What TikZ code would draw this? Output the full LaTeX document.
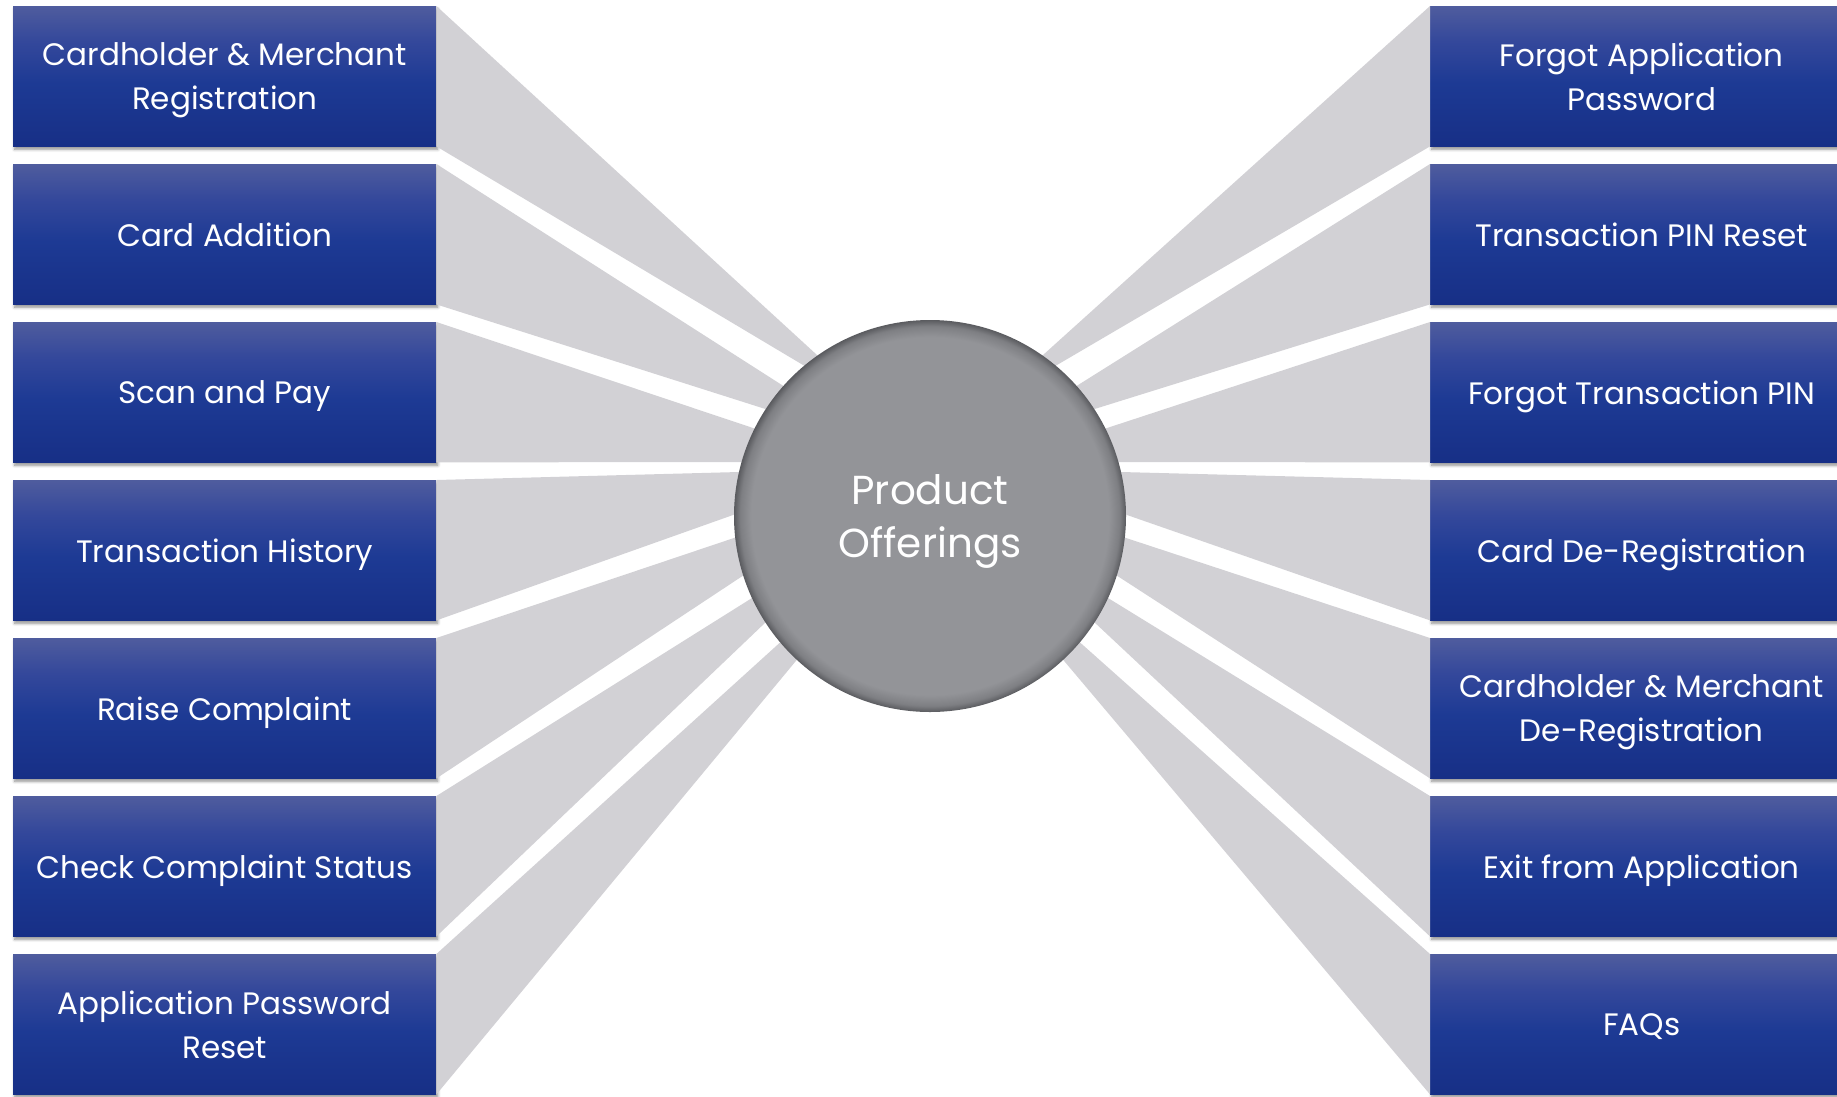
\documentclass[tikz,border=0pt]{standalone}
\usepackage{fontspec}
\setmainfont{Poppins}
\usetikzlibrary{calc,shadows.blur}
\definecolor{wedgegray}{HTML}{D2D1D5}
\definecolor{btop}{HTML}{4F5C9E}
\definecolor{bup}{HTML}{34489B}
\definecolor{bmid}{HTML}{1D3A94}
\definecolor{bbot}{HTML}{172F86}
\definecolor{cgray}{HTML}{939498}
\definecolor{crimA}{HTML}{7E7F83}
\definecolor{crimB}{HTML}{5A5B5F}
\pgfdeclareverticalshading{boxshade}{100bp}{color(0bp)=(bbot); color(25bp)=(bbot); color(47.5bp)=(bmid); color(62.5bp)=(bup); color(75bp)=(btop); color(100bp)=(btop)}
\pgfdeclareradialshading{orbshade}{\pgfpoint{0bp}{0bp}}{color(0bp)=(cgray); color(22.8bp)=(cgray); color(24.2bp)=(crimA); color(25bp)=(crimB); color(50bp)=(crimB)}
\begin{document}
\begin{tikzpicture}[x=1pt,y=-1pt,
  box/.style={rectangle, minimum width=423pt, minimum height=140pt, inner sep=0pt,
    anchor=north west, shade, shading=boxshade, text=white, text depth=-5pt,
    font=\fontsize{31}{44}\selectfont, align=center,
    blur shadow={shadow xshift=1.5pt, shadow yshift=-3pt, shadow blur radius=3pt, shadow opacity=45}},
  wedge/.style={fill=wedgegray},
  orb/.style={circle, minimum size=392pt, inner sep=0pt, shade, shading=orbshade,
    text=white, text depth=-5pt, font=\fontsize{40.5}{53}\selectfont, align=center}]
\useasboundingbox (0,0) rectangle (1837,1096);
\clip (0,0) rectangle (1837,1096);

% points where wedge edges meet the circle (left side)
\coordinate (t1) at (817,355);   \coordinate (b1) at (803,365);
\coordinate (t2) at (781.6,384.8); \coordinate (b2) at (763.8,408.5);
\coordinate (t3) at (754.8,428.6); \coordinate (b3) at (741.6,462);
\coordinate (t4) at (739,472);   \coordinate (b4) at (733,515);
\coordinate (t5) at (733,538.3); \coordinate (b5) at (741,577);
\coordinate (t6) at (752,598);   \coordinate (b6) at (767,621);
\coordinate (t7) at (785,638);   \coordinate (b7) at (796.7,660);
% right side (mirrored)
\coordinate (u1) at (1043,355);   \coordinate (v1) at (1057,365);
\coordinate (u2) at (1078.4,384.8); \coordinate (v2) at (1096.2,408.5);
\coordinate (u3) at (1105.2,428.6); \coordinate (v3) at (1118.4,462);
\coordinate (u4) at (1121,472);   \coordinate (v4) at (1127,515);
\coordinate (u5) at (1127,538.3); \coordinate (v5) at (1119,577);
\coordinate (u6) at (1108,598);   \coordinate (v6) at (1093,621);
\coordinate (u7) at (1075,638);   \coordinate (v7) at (1063.3,660);

% boxes
\path
  (13,6)   node[box] (L1) {Cardholder \& Merchant\\Registration}
  (13,164) node[box] (L2) {Card Addition}
  (13,322) node[box] (L3) {Scan and Pay}
  (13,480) node[box] (L4) {Transaction History}
  (13,638) node[box] (L5) {Raise Complaint}
  (13,796) node[box] (L6) {Check Complaint Status}
  (13,954) node[box] (L7) {Application Password\\Reset}
  (1430,6)   node[box] (R1) {Forgot Application\\Password}
  (1430,164) node[box] (R2) {Transaction PIN Reset}
  (1430,322) node[box] (R3) {Forgot Transaction PIN}
  (1430,480) node[box] (R4) {Card De-Registration}
  (1430,638) node[box] (R5) {Cardholder \& Merchant\\De-Registration}
  (1430,796) node[box] (R6) {Exit from Application}
  (1430,954) node[box] (R7) {FAQs};

% wedges from each box to the central circle
\foreach \n in {1,...,7}{
  \fill[wedge] (L\n.north east) -- ($(L\n.north east)!1.12!(t\n)$)
     -- ($(L\n.south east)!1.12!(b\n)$) -- (L\n.south east) -- cycle;
  \fill[wedge] (R\n.north west) -- ($(R\n.north west)!1.12!(u\n)$)
     -- ($(R\n.south west)!1.12!(v\n)$) -- (R\n.south west) -- cycle;
}

\node[orb] (C) at (930,516) {Product\\Offerings};
\end{tikzpicture}
\end{document}
